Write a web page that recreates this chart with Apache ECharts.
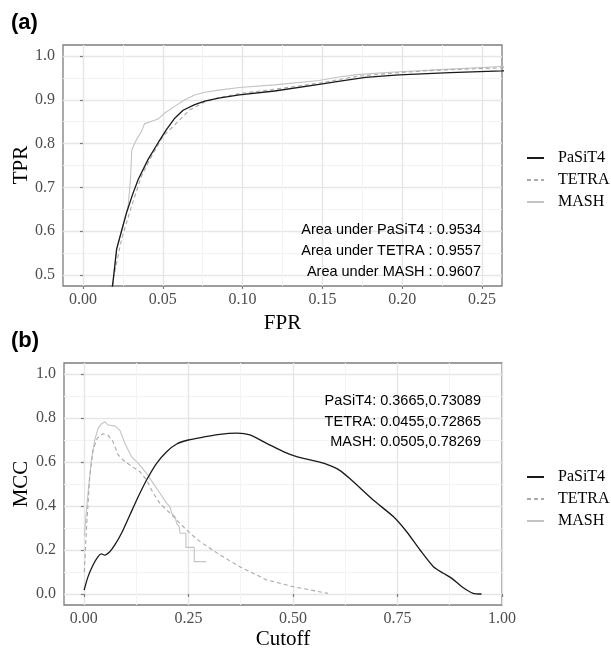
<!DOCTYPE html>
<html>
<head>
<meta charset="utf-8">
<script src="https://cdn.jsdelivr.net/npm/echarts@6/dist/echarts.min.js"></script>
<style>
html,body{margin:0;padding:0;background:#fff;}
#chart{width:611px;height:648px;}
</style>
</head>
<body>
<div id="chart"></div>
<script>
// ---------- Data ----------
const seriesNames = ['PaSiT4', 'TETRA', 'MASH'];

// Panel (a): ROC curves [FPR, TPR]
const rocPaSiT4 = [[0.0175,0.46],[0.0186,0.477],[0.0211,0.559],[0.0245,0.605],[0.0273,0.642],[0.0310,0.683],[0.0346,0.718],[0.0408,0.764],[0.0471,0.802],[0.0523,0.832],[0.0575,0.858],[0.0627,0.876],[0.0700,0.889],[0.0763,0.897],[0.0850,0.904],[0.0980,0.911],[0.1200,0.920],[0.1480,0.935],[0.1600,0.942],[0.1770,0.951],[0.1980,0.957],[0.2300,0.962],[0.2625,0.966],[0.2700,0.967]];
const rocTETRA = [[0.0180,0.46],[0.0190,0.491],[0.0242,0.582],[0.0304,0.657],[0.0367,0.726],[0.0419,0.764],[0.0502,0.817],[0.0586,0.847],[0.0669,0.877],[0.0763,0.895],[0.0850,0.905],[0.0980,0.914],[0.1200,0.924],[0.1480,0.938],[0.1600,0.946],[0.1730,0.954],[0.1980,0.962],[0.2190,0.967],[0.2625,0.973],[0.2700,0.974]];
const rocMASH = [[0.0175,0.46],[0.0186,0.477],[0.0211,0.559],[0.0250,0.612],[0.0283,0.657],[0.0298,0.720],[0.0306,0.786],[0.0335,0.809],[0.0367,0.828],[0.0385,0.845],[0.0430,0.851],[0.0470,0.856],[0.0513,0.870],[0.0575,0.885],[0.0638,0.900],[0.0700,0.911],[0.0763,0.917],[0.0850,0.922],[0.0980,0.928],[0.1200,0.934],[0.1480,0.944],[0.1600,0.952],[0.1730,0.958],[0.1980,0.964],[0.2300,0.970],[0.2625,0.976],[0.2700,0.977]];

// Panel (b): MCC vs cutoff [Cutoff, MCC]
const mccPaSiT4 = [[0.0007,0.018],[0.010,0.079],[0.022,0.132],[0.034,0.170],[0.042,0.182],[0.050,0.177],[0.062,0.192],[0.074,0.223],[0.090,0.276],[0.110,0.359],[0.130,0.442],[0.150,0.518],[0.174,0.594],[0.198,0.647],[0.222,0.682],[0.250,0.700],[0.285,0.713],[0.325,0.726],[0.3665,0.7309],[0.397,0.723],[0.437,0.685],[0.477,0.647],[0.509,0.624],[0.549,0.606],[0.581,0.589],[0.612,0.562],[0.640,0.518],[0.692,0.427],[0.740,0.352],[0.772,0.283],[0.804,0.200],[0.836,0.124],[0.860,0.094],[0.880,0.071],[0.904,0.033],[0.931,0.003],[0.951,0.0]];
const mccTETRA = [[0.001,0.10],[0.006,0.291],[0.014,0.533],[0.022,0.655],[0.032,0.708],[0.0455,0.7287],[0.058,0.721],[0.070,0.692],[0.082,0.632],[0.094,0.609],[0.110,0.586],[0.134,0.556],[0.150,0.518],[0.166,0.458],[0.182,0.412],[0.206,0.367],[0.230,0.321],[0.254,0.276],[0.278,0.238],[0.325,0.178],[0.373,0.124],[0.437,0.064],[0.501,0.033],[0.584,0.003]];
const mccMASH = [[0.001,0.266],[0.010,0.458],[0.018,0.609],[0.026,0.700],[0.034,0.753],[0.042,0.773],[0.0505,0.7827],[0.058,0.768],[0.074,0.764],[0.086,0.745],[0.098,0.685],[0.114,0.624],[0.130,0.594],[0.150,0.548],[0.166,0.503],[0.182,0.458],[0.198,0.412],[0.206,0.397],[0.210,0.367],[0.218,0.352],[0.222,0.321],[0.228,0.306],[0.230,0.276],[0.244,0.276],[0.244,0.212],[0.264,0.212],[0.264,0.147],[0.293,0.147]];

// Axis ticks
const fprTicks = [0, 0.05, 0.10, 0.15, 0.20, 0.25];
const fprMinor = [0.025, 0.075, 0.125, 0.175, 0.225];
const tprTicks = [0.5, 0.6, 0.7, 0.8, 0.9, 1.0];
const tprMinor = [0.55, 0.65, 0.75, 0.85, 0.95];
const cutTicks = [0, 0.25, 0.50, 0.75, 1.00];
const cutMinor = [0.125, 0.375, 0.625, 0.875];
const mccTicks = [0, 0.2, 0.4, 0.6, 0.8, 1.0];
const mccMinor = [0.1, 0.3, 0.5, 0.7, 0.9];

// Annotations
const aucLines = ['Area under PaSiT4 : 0.9534', 'Area under TETRA : 0.9557', 'Area under MASH : 0.9607'];
const bestLines = ['PaSiT4: 0.3665,0.73089', 'TETRA: 0.0455,0.72865', 'MASH: 0.0505,0.78269'];

// ---------- Styles ----------
const SERIF = '"Liberation Serif", "DejaVu Serif", serif';
const SANS = '"Liberation Sans", Arial, sans-serif';
const BORDER = '#7d7d7d';
const MAJOR = '#e6e6e6';
const MINOR = '#f3f3f3';
const styles = {
  PaSiT4: {color: '#1a1a1a', width: 1.3, type: 'solid', z: 5, smooth: 0.25},
  TETRA: {color: '#a9a9a9', width: 1.1, type: [4, 3], z: 4, smooth: false},
  MASH: {color: '#c3c3c3', width: 1.1, type: 'solid', z: 3, smooth: false}
};

const ranges = [
  {x: [-0.0125, 0.2625], y: [0.475, 1.025], xt: fprTicks, xm: fprMinor, yt: tprTicks, ym: tprMinor, xd: 2, yd: 1, xn: 'FPR', yn: 'TPR', xg: 27},
  {x: [-0.0475, 1.0], y: [-0.05, 1.05], xt: cutTicks, xm: cutMinor, yt: mccTicks, ym: mccMinor, xd: 2, yd: 1, xn: 'Cutoff', yn: 'MCC', xg: 24}
];

const grids = [
  {left: 63, top: 45, width: 439, height: 241},
  {left: 64, top: 363, width: 438, height: 242}
];

const xAxes = [], yAxes = [];
ranges.forEach((r, gi) => {
  xAxes.push({
    type: 'value', gridIndex: gi, min: r.x[0], max: r.x[1],
    name: r.xn, nameLocation: 'middle', nameGap: r.xg,
    nameTextStyle: {fontFamily: SERIF, fontSize: 21, color: '#000'},
    axisLine: {show: false},
    axisTick: {show: true, length: 3, lineStyle: {color: BORDER, width: 1.2}, customValues: r.xt},
    axisLabel: {customValues: r.xt, margin: 6, fontFamily: SERIF, fontSize: 16, color: '#4d4d4d',
      formatter: v => v.toFixed(r.xd)},
    splitLine: {show: true, lineStyle: {color: MAJOR, width: 1.4}}
  });
  yAxes.push({
    type: 'value', gridIndex: gi, min: r.y[0], max: r.y[1],
    axisLine: {show: false},
    axisTick: {show: true, length: 3, lineStyle: {color: BORDER, width: 1.2}, customValues: r.yt},
    axisLabel: {customValues: r.yt, margin: 8, fontFamily: SERIF, fontSize: 16, color: '#4d4d4d',
      formatter: v => v.toFixed(r.yd)},
    splitLine: {show: true, lineStyle: {color: MAJOR, width: 1.4}}
  });
});
ranges.forEach((r, gi) => {
  xAxes.push({
    type: 'value', gridIndex: gi, min: r.x[0], max: r.x[1], position: 'bottom',
    axisLine: {show: false}, axisTick: {show: false, customValues: r.xm},
    axisLabel: {show: false, customValues: r.xm},
    splitLine: {show: true, lineStyle: {color: MINOR, width: 1}}
  });
  yAxes.push({
    type: 'value', gridIndex: gi, min: r.y[0], max: r.y[1], position: 'left',
    axisLine: {show: false}, axisTick: {show: false, customValues: r.ym},
    axisLabel: {show: false, customValues: r.ym},
    splitLine: {show: true, lineStyle: {color: MINOR, width: 1}}
  });
});

const panelData = [
  {PaSiT4: rocPaSiT4, TETRA: rocTETRA, MASH: rocMASH},
  {PaSiT4: mccPaSiT4, TETRA: mccTETRA, MASH: mccMASH}
];

const series = [];
panelData.forEach((pd, gi) => {
  seriesNames.forEach(name => {
    const s = styles[name];
    series.push({
      type: 'line', name: name, xAxisIndex: gi, yAxisIndex: gi,
      data: pd[name], symbol: 'none', showSymbol: false, clip: true,
      smooth: gi === 1 ? s.smooth : false,
      z: s.z, animation: false, silent: true,
      lineStyle: {color: s.color, width: s.width, type: s.type},
      itemStyle: {color: s.color}
    });
  });
});

function legendAt(top) {
  return {
    orient: 'vertical', left: 526, top: top, padding: 0,
    itemWidth: 17, itemHeight: 14, itemGap: 6,
    data: seriesNames, selectedMode: false,
    itemStyle: {opacity: 0},
    textStyle: {fontFamily: SERIF, fontSize: 16, color: '#000', padding: [0, 0, 0, 9]}
  };
}

function textLines(lines, x, y0, dy) {
  return lines.map((t, i) => ({
    type: 'text', x: x, y: y0 + i * dy, silent: true, z: 100,
    style: {text: t, fill: '#000', font: '14.5px ' + SANS, textAlign: 'right', textVerticalAlign: 'middle'}
  }));
}

function yTitle(text, cy) {
  return {type: 'text', x: 21, y: cy, rotation: Math.PI / 2, z: 100, silent: true,
    style: {text: text, fill: '#000', font: '21px ' + SERIF, textAlign: 'center', textVerticalAlign: 'middle'}};
}

const graphics = [
  {type: 'text', x: 11, y: 23, z: 100, style: {text: '(a)', fill: '#000', font: 'bold 22px ' + SANS, textVerticalAlign: 'middle'}},
  {type: 'text', x: 11, y: 341, z: 100, style: {text: '(b)', fill: '#000', font: 'bold 22px ' + SANS, textVerticalAlign: 'middle'}},
  yTitle(ranges[0].yn, 165),
  yTitle(ranges[1].yn, 484)
].concat(textLines(aucLines, 481, 230, 21)).concat(textLines(bestLines, 481, 401, 20.7));

const option = {
  animation: false,
  backgroundColor: '#fff',
  grid: grids.map(g => Object.assign({show: true, borderColor: BORDER, borderWidth: 1.3, backgroundColor: 'transparent', containLabel: false, outerBoundsMode: 'none'}, g)),
  xAxis: xAxes,
  yAxis: yAxes,
  legend: [legendAt(150), legendAt(469)],
  series: series,
  graphic: graphics
};

const chart = echarts.init(document.getElementById('chart'), null, {renderer: 'canvas'});
chart.setOption(option);
</script>
</body>
</html>
